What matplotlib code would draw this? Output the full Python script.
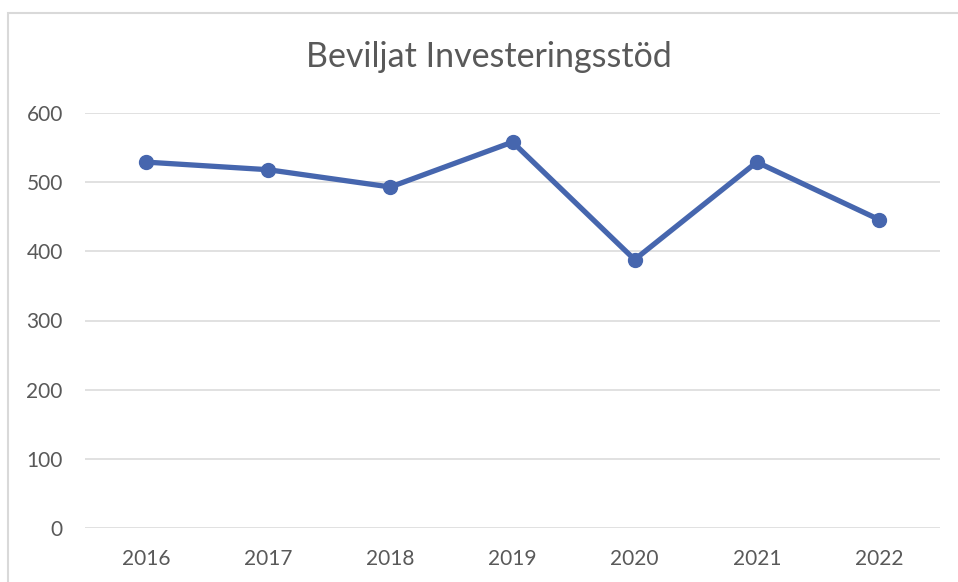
import numpy as np
import matplotlib
matplotlib.use('Agg')
import matplotlib.pyplot as plt
from matplotlib.patches import Rectangle

# data
years = ['2016', '2017', '2018', '2019', '2020', '2021', '2022']
values = [529, 518, 493, 558, 388, 529, 446]
yticks = [0, 100, 200, 300, 400, 500, 600]

title = 'Beviljat Investeringsstöd'
line_color = '#4666ae'
text_color = '#595959'
grid_color = '#d9d9d9'

plt.rcParams['font.family'] = ['Lato', 'DejaVu Sans']

W, H = 958, 582
fig = plt.figure(figsize=(W / 100, H / 100), dpi=100)

# chart frame (cut off at right and bottom in the reference)
fig.patches.append(Rectangle((8 / W, -0.1), 1.2, 1 - 13 / H + 0.1,
                             transform=fig.transFigure, fill=False,
                             edgecolor=grid_color, linewidth=1.5))

ax = fig.add_axes([85 / W, 1 - 528 / H, (940 - 85) / W, (528 - 113) / H])
x = np.arange(len(years))
ax.plot(x, values, '-o', color=line_color, linewidth=3.8,
        markersize=10, solid_capstyle='round', zorder=3)

ax.set_xlim(-0.5, len(years) - 0.5)
ax.set_ylim(0, 600)
ax.set_xticks(x)
ax.set_xticklabels(years)
ax.set_yticks(yticks)
ax.tick_params(axis='both', length=0, labelsize=15, labelcolor=text_color)
ax.tick_params(axis='x', pad=15)
ax.tick_params(axis='y', pad=16)
ax.grid(axis='y', color=grid_color, linewidth=1.1)
ax.set_axisbelow(True)
for s in ax.spines.values():
    s.set_visible(False)

fig.text(489 / W, 1 - 57 / H, title, ha='center', va='center',
         fontsize=24.5, color=text_color)

fig.savefig('out.png', dpi=100)
